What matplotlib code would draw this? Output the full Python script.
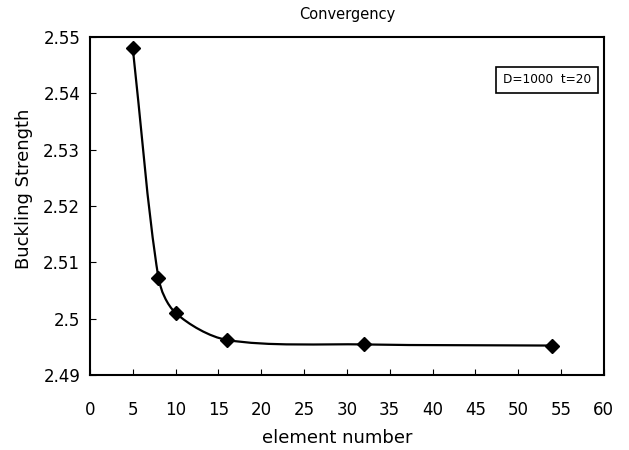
import numpy as np
import matplotlib.pyplot as plt
from matplotlib.path import Path
from matplotlib.patches import PathPatch

plt.rcParams['font.family'] = ['DejaVu Sans']

elements = [5, 8, 10, 16, 32, 54]
strength = [2.548, 2.5072, 2.5010, 2.4962, 2.4954, 2.4952]
y_ticks = [2.49, 2.5, 2.51, 2.52, 2.53, 2.54, 2.55]
y_labels = ['2.49', '2.5', '2.51', '2.52', '2.53', '2.54', '2.55']
x_ticks = list(range(0, 61, 5))

fig = plt.figure(figsize=(6.29, 4.5), dpi=100)
ax = fig.add_axes([0.143, 0.167, 0.817, 0.751])
ax.set_xlim(0, 60)
ax.set_ylim(2.49, 2.55)

# smoothed line like a spreadsheet chart: bezier segments, tangents worked out in screen space
disp = ax.transData.transform(np.column_stack([elements, strength]))
n = len(disp)
verts = [disp[0]]
codes = [Path.MOVETO]
for i in range(n - 1):
    p0 = disp[i - 1] if i > 0 else disp[i]
    p1 = disp[i]
    p2 = disp[i + 1]
    p3 = disp[i + 2] if i + 2 < n else disp[i + 1]
    seg = np.hypot(*(p2 - p1))
    d1 = (p2 - p0) / np.hypot(*(p2 - p0))
    d2 = (p3 - p1) / np.hypot(*(p3 - p1))
    verts += [p1 + d1 * seg * 0.3, p2 - d2 * seg * 0.3, p2]
    codes += [Path.CURVE4, Path.CURVE4, Path.CURVE4]
verts = ax.transData.inverted().transform(np.array(verts))
ax.add_patch(PathPatch(Path(verts, codes), facecolor='none', edgecolor='black', lw=1.6))

ax.plot(elements, strength, linestyle='none', marker='D', color='black', markersize=7)

ax.set_xticks(x_ticks)
ax.set_yticks(y_ticks)
ax.set_yticklabels(y_labels)
ax.tick_params(direction='in', length=4, labelsize=12)
ax.tick_params(axis='y', pad=7)
ax.tick_params(axis='x', pad=19)
for s in ax.spines.values():
    s.set_linewidth(1.5)

ax.set_title('Convergency', fontsize=10.5, pad=13)
ax.set_xlabel('element number', fontsize=13)
ax.xaxis.set_label_coords(0.482, -0.16)
ax.set_ylabel('Buckling Strength', fontsize=13)
ax.yaxis.set_label_coords(-0.11, 0.55)

ax.text(0.975, 0.873, 'D=1000  t=20', transform=ax.transAxes, ha='right', va='center',
        fontsize=8.7, bbox=dict(boxstyle='square,pad=0.55', facecolor='white', edgecolor='black', lw=1.2))

fig.savefig('out.png', dpi=100)
